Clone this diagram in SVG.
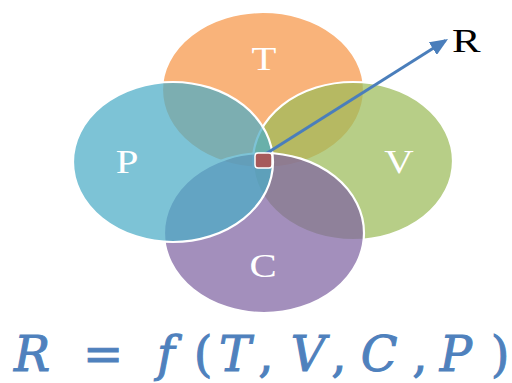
<svg xmlns="http://www.w3.org/2000/svg" width="512" height="383" viewBox="0 0 512 383">
<style>
.e{fill-opacity:0.72;stroke:#ffffff;stroke-width:2.2}
.lbl{font-family:"Liberation Serif","Times New Roman",serif;font-size:34px;fill:#ffffff;text-anchor:middle}
.r{font-family:"Liberation Serif","Times New Roman",serif;font-size:33px;fill:#000000}
.f{font-family:"DejaVu Serif",serif;font-style:italic;font-size:48px;fill:#4F81BD;stroke:#4F81BD;stroke-width:1;text-anchor:middle}
.fu{font-style:normal}
</style>
<defs>
<marker id="ah" markerWidth="6" markerHeight="5" refX="5" refY="2.5" orient="auto" markerUnits="strokeWidth">
<path d="M0,0 L6,2.5 L0,5 Z" fill="#4A7EBB"/>
</marker>
</defs>
<rect width="512" height="383" fill="#ffffff"/>
<g id="T"><ellipse class="e" cx="263" cy="90" rx="101" ry="78" fill="#F79646"/></g>
<g id="V"><ellipse class="e" cx="353" cy="161" rx="100" ry="79" fill="#9BBB59"/></g>
<g id="C"><ellipse class="e" cx="264" cy="233" rx="100" ry="80" fill="#8064A2"/></g>
<g id="P"><ellipse class="e" cx="173" cy="162" rx="100" ry="80" fill="#4BACC6"/></g>
<g id="labels">
<text class="lbl" transform="translate(264,70) scale(1.2,1)">T</text>
<text class="lbl" transform="translate(127,173) scale(1.2,1)">P</text>
<text class="lbl" transform="translate(399,173) scale(1.2,1)">V</text>
<text class="lbl" transform="translate(263,277) scale(1.2,1)">C</text>
</g>
<g id="connectors">
<line x1="264" y1="155" x2="445.5" y2="40.6" stroke="#4A7EBB" stroke-width="3" marker-end="url(#ah)"/>
</g>
<g id="center"><rect x="255" y="153" width="17" height="15" rx="3" fill="#A65A5B" stroke="#ffffff" stroke-width="1.5"/></g>
<g id="R"><text class="r" transform="translate(452,52) scale(1.3,1)">R</text></g>
<g id="formula">
<text class="f" y="371"><tspan x="32">R</tspan><tspan x="103" class="fu">=</tspan><tspan x="166">f</tspan><tspan x="203" class="fu">(</tspan><tspan x="235">T</tspan><tspan x="266" class="fu">,</tspan><tspan x="308">V</tspan><tspan x="339" class="fu">,</tspan><tspan x="379">C</tspan><tspan x="420" class="fu">,</tspan><tspan x="456">P</tspan><tspan x="500" class="fu">)</tspan></text>
</g>
</svg>
